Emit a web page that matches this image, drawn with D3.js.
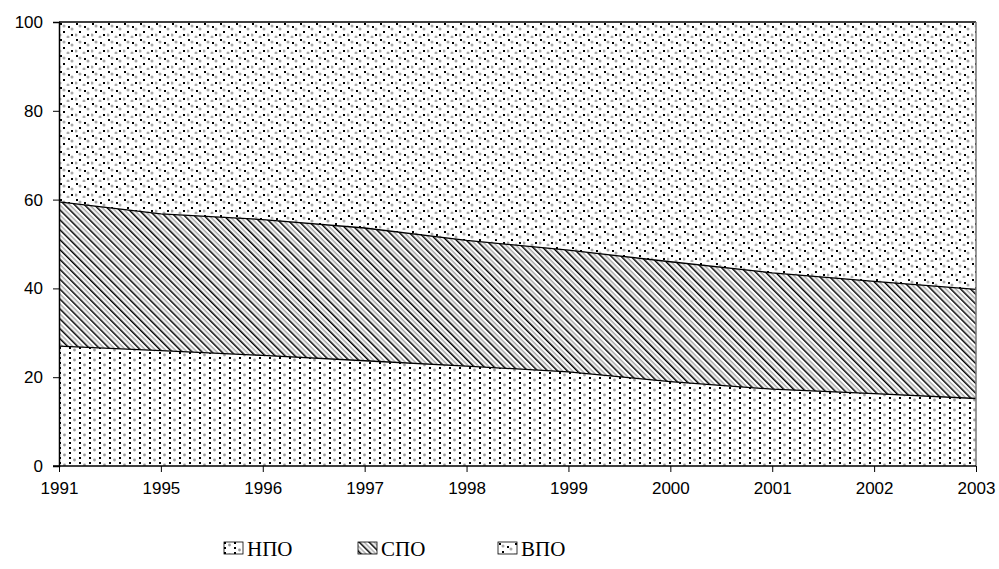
<!DOCTYPE html>
<html>
<head>
<meta charset="utf-8">
<script src="https://cdn.jsdelivr.net/npm/d3@7"></script>
<style>
  body { margin: 0; background: #fff; }
  svg { display: block; }
  .legend text { font-family: "Liberation Serif", "Times New Roman", serif; font-size: 21px; }
</style>
</head>
<body>
<svg width="999" height="569"></svg>
<script>
var years = ["1991", "1995", "1996", "1997", "1998", "1999", "2000", "2001", "2002", "2003"];
var npo = [27, 26, 24.9, 23.7, 22.5, 21.2, 19, 17.3, 16.3, 15.2];
var spo = [32.5, 30.8, 30.6, 29.9, 28.3, 27.4, 27, 26.2, 25.3, 24.6];
var vpo = [40.5, 43.2, 44.5, 46.4, 49.2, 51.4, 54, 56.5, 58.4, 60.2];
var seriesNames = ["НПО", "СПО", "ВПО"];
var yTicks = [0, 20, 40, 60, 80, 100];

var table = years.map(function(y, i) {
  return { year: y, "НПО": npo[i], "СПО": spo[i], "ВПО": vpo[i] };
});

var svg = d3.select("svg");
var margin = { left: 59, right: 23, top: 22, bottom: 103 };
var width = 999 - margin.left - margin.right;
var height = 569 - margin.top - margin.bottom;

// fill patterns
var defs = svg.append("defs");

var p1 = defs.append("pattern").attr("id", "pat-npo")
  .attr("patternUnits", "userSpaceOnUse").attr("width", 20).attr("height", 10);
p1.append("rect").attr("width", 20).attr("height", 10).attr("fill", "#fff");
[[0, 0], [10, 0], [0, 5], [10, 5]].forEach(function(d) {
  p1.append("rect").attr("x", d[0]).attr("y", d[1]).attr("width", 2).attr("height", 2).attr("fill", "#000");
});
[[5.5, 3], [15.5, 8]].forEach(function(d) {
  p1.append("circle").attr("cx", d[0]).attr("cy", d[1]).attr("r", 1.4).attr("fill", "#999");
});

var p2 = defs.append("pattern").attr("id", "pat-spo")
  .attr("patternUnits", "userSpaceOnUse").attr("width", 7).attr("height", 7)
  .attr("patternTransform", "rotate(-45)");
p2.append("rect").attr("width", 7).attr("height", 7).attr("fill", "#fff");
p2.append("rect").attr("x", 0).attr("y", 0).attr("width", 1.5).attr("height", 7).attr("fill", "#000");
p2.append("rect").attr("x", 3.5).attr("y", 0).attr("width", 1.5).attr("height", 7).attr("fill", "#aaa");

var p3 = defs.append("pattern").attr("id", "pat-vpo")
  .attr("patternUnits", "userSpaceOnUse").attr("width", 16).attr("height", 16);
p3.append("rect").attr("width", 16).attr("height", 16).attr("fill", "#fff");
[[1, 1], [9, 4], [4, 9], [12, 12]].forEach(function(d) {
  p3.append("rect").attr("x", d[0]).attr("y", d[1]).attr("width", 2).attr("height", 2).attr("fill", "#000");
});
[[5, 4], [13, 7], [1, 13], [9, 15]].forEach(function(d) {
  p3.append("circle").attr("cx", d[0]).attr("cy", d[1]).attr("r", 1.5).attr("fill", "#aaa");
});

var patterns = { "НПО": "url(#pat-npo)", "СПО": "url(#pat-spo)", "ВПО": "url(#pat-vpo)" };

var g = svg.append("g").attr("transform", "translate(" + margin.left + "," + margin.top + ")");

var x = d3.scalePoint().domain(years).range([0, width]);
var y = d3.scaleLinear().domain([0, 100]).range([height, 0]);

var stacked = d3.stack().keys(seriesNames)(table);

var area = d3.area()
  .x(function(d) { return x(d.data.year); })
  .y0(function(d) { return y(d[0]); })
  .y1(function(d) { return y(d[1]); });

var line = d3.line()
  .x(function(d) { return x(d.data.year); })
  .y(function(d) { return y(d[1]); });

g.selectAll(".area")
  .data(stacked)
  .enter()
  .append("path")
  .attr("class", "area")
  .attr("d", area)
  .attr("fill", function(d) { return patterns[d.key]; });

g.selectAll(".edge")
  .data(stacked)
  .enter()
  .append("path")
  .attr("class", "edge")
  .attr("d", line)
  .attr("fill", "none")
  .attr("stroke", "#000")
  .attr("stroke-width", 1.3);

// right border
g.append("line")
  .attr("x1", width).attr("x2", width)
  .attr("y1", 0).attr("y2", height)
  .attr("stroke", "#777").attr("stroke-width", 1.5);

// axes
var yAxis = g.append("g")
  .call(d3.axisLeft(y).tickValues(yTicks).tickSize(6).tickPadding(10));
var xAxis = g.append("g")
  .attr("transform", "translate(0," + height + ")")
  .call(d3.axisBottom(x).tickSize(6).tickPadding(5));

[yAxis, xAxis].forEach(function(a) {
  a.attr("font-family", "'Liberation Sans', Arial, sans-serif").attr("font-size", 17);
  a.select(".domain").attr("stroke", "#000").attr("stroke-width", 1.5);
  a.selectAll(".tick line").attr("stroke", "#000");
  a.selectAll(".tick text").attr("fill", "#000");
});
xAxis.select(".domain").attr("d", "M-6,0H" + width);
xAxis.selectAll(".tick text").attr("dy", "1em");

// legend
var legendX = [224, 358, 498];
var legend = svg.append("g").attr("class", "legend").attr("transform", "translate(0, 542)");
var items = legend.selectAll("g")
  .data(seriesNames)
  .enter()
  .append("g")
  .attr("transform", function(d, i) { return "translate(" + legendX[i] + ",0)"; });
items.append("rect")
  .attr("width", 19).attr("height", 12)
  .attr("fill", function(d) { return patterns[d]; })
  .attr("stroke", "#000").attr("stroke-width", 0.8);
items.append("text")
  .attr("x", 23).attr("y", 14)
  .text(function(d) { return d; });
</script>
</body>
</html>
